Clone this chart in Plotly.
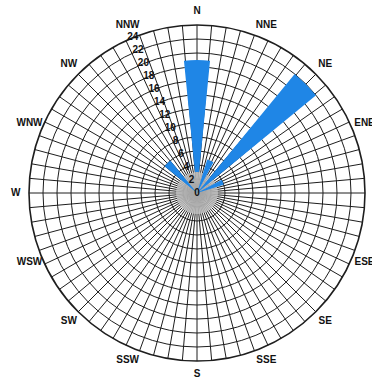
import numpy as np
import plotly.graph_objects as go

# Wind rose: frequency (%) by direction
directions = ["N", "NNE", "NE", "ENE", "E", "ESE", "SE", "SSE",
              "S", "SSW", "SW", "WSW", "W", "WNW", "NW", "NNW"]
angles = [i * 22.5 for i in range(16)]
frequency = [16, 5, 22, 4, 0, 0, 0, 0, 0, 0, 0, 0, 0, 0, 6, 0]
radial_ticks = list(range(0, 25, 2))
scale_direction = 337.5  # radial scale is written along NNW
label_radius = 25.9      # compass labels sit just outside the 24 ring
calm_radius = 3
r_max = 24

W, H = 372, 384
dom_x = [29 / W, 365 / W]
dom_y = [23 / H, 359 / H]
text_font = dict(size=10, color="#111", family="Liberation Sans, Arial, sans-serif", weight="bold")

# hidden cartesian frame over the whole page with the same centre and
# scale as the polar subplot, used to place the compass names
px_per_unit = (dom_x[1] - dom_x[0]) * W / (2 * r_max)
cx = (dom_x[0] + dom_x[1]) / 2 * W
cy = (dom_y[0] + dom_y[1]) / 2 * H
x_range = [-cx / px_per_unit, (W - cx) / px_per_unit]
y_range = [-cy / px_per_unit, (H - cy) / px_per_unit]

fig = go.Figure()

# shaded calm disc at the centre
fig.add_trace(go.Barpolar(
    r=[calm_radius], theta=[0], width=[360],
    marker=dict(color="rgba(190,190,190,0.85)", line=dict(width=0)),
    hoverinfo="skip",
))

fig.add_trace(go.Barpolar(
    r=frequency,
    theta=angles,
    width=[11.25] * len(angles),
    marker=dict(color="#1f86e6", line=dict(width=0)),
    hoverinfo="skip",
))

# radial scale numbers centred on the NNW spoke
fig.add_trace(go.Scatterpolar(
    r=radial_ticks,
    theta=[scale_direction] * len(radial_ticks),
    mode="text",
    text=[str(v) for v in radial_ticks],
    textposition="middle center",
    textfont=text_font,
    cliponaxis=False,
    hoverinfo="skip", showlegend=False,
))

# compass point names around the rim
theta_rad = np.radians(angles)
fig.add_trace(go.Scatter(
    x=label_radius * np.sin(theta_rad),
    y=label_radius * np.cos(theta_rad),
    mode="text",
    text=directions,
    textposition="middle center",
    textfont=text_font,
    cliponaxis=False,
    hoverinfo="skip", showlegend=False,
))

grid_color = "#1e1e1e"

fig.update_layout(
    width=W, height=H,
    margin=dict(l=0, r=0, t=0, b=0),
    paper_bgcolor="white",
    plot_bgcolor="rgba(0,0,0,0)",
    showlegend=False,
    font=dict(family="Liberation Sans, Arial, sans-serif", color="#111"),
    xaxis=dict(domain=[0, 1], range=x_range, visible=False, fixedrange=True),
    yaxis=dict(domain=[0, 1], range=y_range, visible=False, fixedrange=True),
    polar=dict(
        domain=dict(x=dom_x, y=dom_y),
        bgcolor="white",
        angularaxis=dict(
            direction="clockwise", rotation=90,
            tickmode="linear", tick0=0, dtick=5,
            showticklabels=False, ticks="",
            showgrid=True, gridcolor=grid_color, gridwidth=1.4,
            showline=True, linecolor=grid_color, linewidth=1.6,
            layer="below traces",
        ),
        radialaxis=dict(
            range=[0, r_max], tickvals=radial_ticks,
            showgrid=True, gridcolor=grid_color, gridwidth=1.4,
            showline=False, ticks="", showticklabels=False,
            angle=112.5,
            layer="below traces",
        ),
    ),
)

fig.write_html("out.html")
